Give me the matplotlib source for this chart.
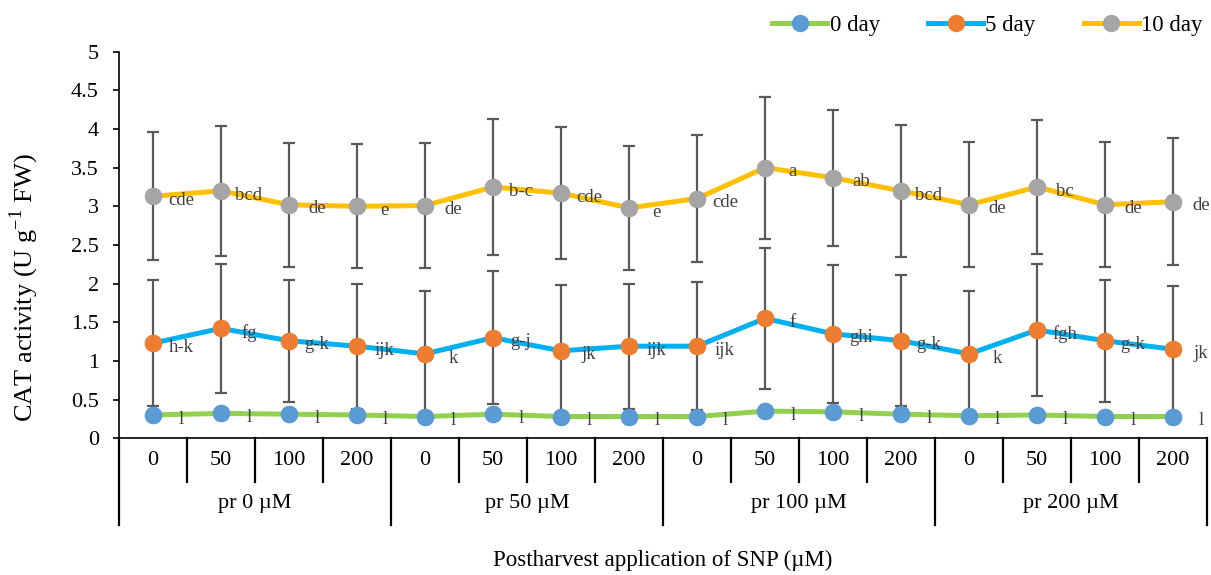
import numpy as np
import matplotlib
matplotlib.use("Agg")
import matplotlib.pyplot as plt
import matplotlib.transforms as mtransforms

plt.rcParams["font.family"] = ["Liberation Serif", "DejaVu Serif"]
plt.rcParams["mathtext.fontset"] = "custom"
plt.rcParams["mathtext.rm"] = "Liberation Serif"

# categories
snp_levels = ["0", "50", "100", "200"] * 4
pr_groups = ["pr 0 µM", "pr 50 µM", "pr 100 µM", "pr 200 µM"]

# series values (U g-1 FW)
day0 = [0.30, 0.32, 0.31, 0.30, 0.28, 0.31, 0.28, 0.28,
        0.28, 0.35, 0.34, 0.31, 0.29, 0.30, 0.28, 0.28]
day0_err = [0.02] * 16
day5 = [1.23, 1.42, 1.26, 1.19, 1.09, 1.30, 1.13, 1.19,
        1.19, 1.55, 1.35, 1.26, 1.09, 1.40, 1.26, 1.15]
day5_err = [0.82, 0.83, 0.79, 0.81, 0.81, 0.86, 0.85, 0.81,
            0.83, 0.91, 0.89, 0.85, 0.81, 0.85, 0.79, 0.82]
day10 = [3.13, 3.20, 3.02, 3.00, 3.01, 3.25, 3.17, 2.98,
         3.10, 3.50, 3.37, 3.20, 3.02, 3.25, 3.02, 3.06]
day10_err = [0.83, 0.84, 0.80, 0.80, 0.81, 0.88, 0.85, 0.80,
             0.82, 0.92, 0.88, 0.85, 0.81, 0.87, 0.81, 0.82]

# significance letters
day0_letters = ["l"] * 16
day5_letters = ["h-k", "fg", "g-k", "ijk", "k", "g-j", "jk", "ijk",
                "ijk", "f", "ghi", "g-k", "k", "fgh", "g-k", "jk"]
day10_letters = ["cde", "bcd", "de", "e", "de", "b-c", "cde", "e",
                 "cde", "a", "ab", "bcd", "de", "bc", "de", "de"]

series = [
    ("0 day", day0, day0_err, day0_letters, "#92D050", "#5B9BD5"),
    ("5 day", day5, day5_err, day5_letters, "#00B0F0", "#ED7D31"),
    ("10 day", day10, day10_err, day10_letters, "#FFC000", "#A5A5A5"),
]

fig = plt.figure(figsize=(12.11, 5.75), dpi=100)
ax = fig.add_axes([0.0983, 0.238, 0.8985, 0.672])

x = np.arange(len(snp_levels))
for name, vals, err, letters, lc, mc in series:
    ax.plot(x, vals, color=lc, lw=3.6, zorder=2, label=name,
            marker="o", markersize=11.5, markerfacecolor=mc,
            markeredgecolor=mc)
    ax.errorbar(x, vals, yerr=err, fmt="none", ecolor="#595959",
                elinewidth=1.6, capsize=4.5, capthick=1.6, zorder=3)
    ax.plot(x, vals, linestyle="none", marker="o", markersize=11.5,
            markerfacecolor=mc, markeredgecolor=mc, zorder=4)
    for xi, yi, lab in zip(x, vals, letters):
        ax.annotate(lab, (xi, yi), xytext=(20, -3), textcoords="offset points",
                    ha="center", va="center", fontsize=13.5, color="#404040",
                    zorder=5)

ax.set_xlim(-0.5, len(snp_levels) - 0.5)
ax.set_ylim(0, 5)
ax.set_yticks(np.arange(0, 5.01, 0.5))
ax.set_yticklabels(["0", "0.5", "1", "1.5", "2", "2.5", "3", "3.5", "4", "4.5", "5"])
ax.tick_params(axis="y", labelsize=16, length=4.5, width=1.2, direction="out",
               pad=10)
ax.set_xticks([])
for s in ["top", "right"]:
    ax.spines[s].set_visible(False)
ax.spines["left"].set_linewidth(1.2)
ax.spines["bottom"].set_linewidth(1.2)
ax.set_ylabel("CAT activity (U g$^{-1}$ FW)", fontsize=19)
ax.yaxis.set_label_coords(-0.072, 0.39)

# two-level category axis
trans = mtransforms.blended_transform_factory(ax.transData, ax.transAxes)
row1, row2 = -0.114, -0.225
for b in np.arange(-0.5, len(snp_levels), 1.0):
    bottom = row2 if (b + 0.5) % 4 == 0 else row1
    ax.plot([b, b], [0, bottom], transform=trans, color="black", lw=1.6,
            clip_on=False)
for xi, lab in zip(x, snp_levels):
    ax.text(xi, row1 / 2, lab, transform=trans, ha="center", va="center",
            fontsize=16)
for gi, lab in enumerate(pr_groups):
    ax.text(gi * 4 + 1.5, (row1 + row2) / 2, lab, transform=trans,
            ha="center", va="center", fontsize=16)
fig.text(0.547, 0.026, "Postharvest application of SNP (µM)", ha="center",
         va="center", fontsize=16.5)

handles, labels = ax.get_legend_handles_labels()
fig.legend(handles, labels, loc="upper right", bbox_to_anchor=(1.01, 1.01),
           ncol=3, frameon=False, fontsize=16.5, handlelength=2.4,
           handletextpad=0.1, columnspacing=2.1)

fig.savefig("out.png", dpi=100)
